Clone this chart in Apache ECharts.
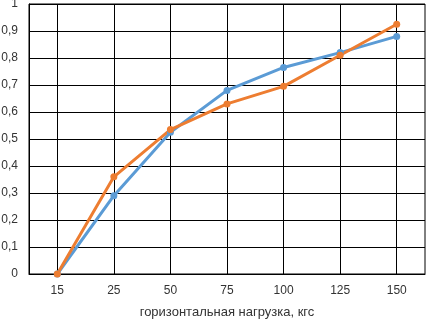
<!DOCTYPE html>
<html><head><meta charset="utf-8">
<script src="https://cdn.jsdelivr.net/npm/echarts@6/dist/echarts.min.js"></script>
<style>html,body{margin:0;padding:0;background:#fff}#c{width:426px;height:321px}</style>
</head><body><div id="c"></div>
<script>
const categories = ['15','25','50','75','100','125','150'];
const blueValues = [0, 0.29, 0.525, 0.68, 0.765, 0.82, 0.88];
const orangeValues = [0, 0.36, 0.535, 0.63, 0.695, 0.81, 0.925];
const xTitle = 'горизонтальная нагрузка, кгс';

const chart = echarts.init(document.getElementById('c'));
const font = 'Liberation Sans';
chart.setOption({
  animation: false,
  grid: {left: 29, right: 1, top: 4, bottom: 47, show: true, borderColor: '#000', borderWidth: 1,
         containLabel: false, outerBoundsMode: 'none'},
  xAxis: {
    type: 'category', data: categories, boundaryGap: true,
    name: xTitle, nameLocation: 'middle', nameGap: 32,
    nameTextStyle: {fontFamily: font, fontSize: 13, color: '#333'},
    axisLine: {lineStyle: {color: '#000', width: 1}},
    axisTick: {show: false},
    axisLabel: {fontFamily: font, fontSize: 12, color: '#333', margin: 11},
    splitLine: {show: true, alignWithLabel: true, lineStyle: {color: '#000', width: 1}}
  },
  yAxis: {
    type: 'value', min: 0, max: 1, interval: 0.1,
    axisLine: {show: true, lineStyle: {color: '#000', width: 1}},
    axisTick: {show: false},
    axisLabel: {fontFamily: font, fontSize: 12, color: '#333', margin: 11,
      formatter: v => String(Math.round(v*10)/10).replace('.', ',')},
    splitLine: {show: true, lineStyle: {color: '#000', width: 1}}
  },
  series: [
    {type: 'line', data: blueValues, symbol: 'circle', symbolSize: 7,
     lineStyle: {color: '#5B9BD5', width: 3}, itemStyle: {color: '#5B9BD5'}},
    {type: 'line', data: orangeValues, symbol: 'circle', symbolSize: 7,
     lineStyle: {color: '#ED7D31', width: 3}, itemStyle: {color: '#ED7D31'}}
  ]
});
</script></body></html>
